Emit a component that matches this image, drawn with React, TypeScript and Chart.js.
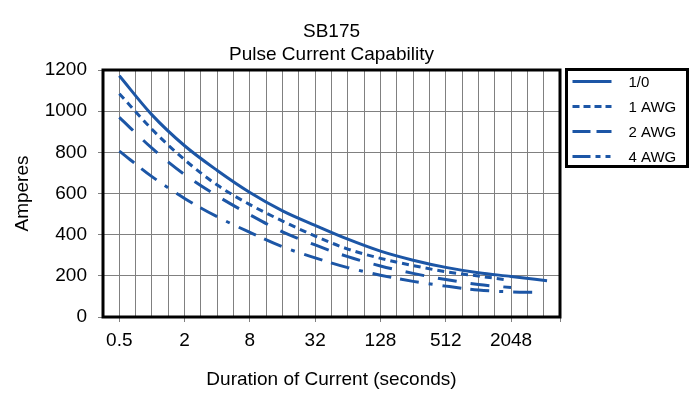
import React, { useEffect, useRef } from "react";
import { Chart, registerables } from "chart.js";

Chart.register(...registerables);

const TITLE_LINES = ["SB175", "Pulse Current Capability"];
const X_TITLE = "Duration of Current (seconds)";
const Y_TITLE = "Amperes";
const SERIES_NAMES = ["1/0", "1 AWG", "2 AWG", "4 AWG"];
const X_LABEL_VALUES = [0.5, 2, 8, 32, 128, 512, 2048];
const X_MIN = Math.pow(2, -1.5);
const X_MAX = Math.pow(2, 12.5);
const Y_MIN = 0;
const Y_MAX = 1200;
const Y_STEP = 200;

const DUR_1_0 = [0.5, 1, 2, 4, 8, 16, 32, 64, 128, 256, 512, 1024, 2048, 4400];
const AMPS_1_0 = [1172, 982, 832, 712, 605, 516, 445, 378, 320, 276, 241, 215, 197, 176];

const DUR_1_AWG = [0.5, 1, 2, 4, 8, 16, 32, 64, 128, 256, 512, 1024, 1900];
const AMPS_1_AWG = [1085, 912, 764, 641, 546, 466, 393, 330, 285, 250, 220, 199, 180];

const DUR_2_AWG = [0.5, 1, 2, 4, 8, 16, 32, 64, 128, 256, 512, 1024, 2048];
const AMPS_2_AWG = [970, 820, 692, 588, 497, 414, 350, 293, 248, 212, 182, 158, 143];

const DUR_4_AWG = [0.5, 1, 2, 4, 8, 16, 32, 64, 128, 256, 512, 1024, 2048, 3600];
const AMPS_4_AWG = [806, 682, 576, 487, 411, 341, 287, 240, 203, 173, 150, 131, 122, 120];

const LINE_COLOR = "#1c56a6";
const GRID_COLOR = "#808080";
const FONT_FAMILY = '"Liberation Sans", Arial, sans-serif';

const DASHES: number[][] = [[], [7, 5], [19, 14], [19, 9, 19, 10, 4, 10]];
const LEGEND_DASHES: number[][] = [[], [7, 4], [18, 6], [18, 5, 5, 5, 5, 5]];

const toPoints = (xs: number[], ys: number[]) => xs.map((x, i) => ({ x, y: ys[i] }));

const isLabelValue = (v: number) => X_LABEL_VALUES.some((l) => Math.abs(l - v) / l < 1e-6);

const titlePlugin = {
  id: "customTitle",
  afterDraw(chart: any) {
    const { ctx, chartArea } = chart;
    const cx = (chartArea.left + chartArea.right) / 2;
    ctx.save();
    ctx.fillStyle = "#000";
    ctx.font = `19px ${FONT_FAMILY}`;
    ctx.textAlign = "center";
    ctx.textBaseline = "middle";
    ctx.fillText(TITLE_LINES[0], cx, 32);
    ctx.fillText(TITLE_LINES[1], cx, 55);
    ctx.restore();
  },
};

const framePlugin = {
  id: "frame",
  afterDatasetsDraw(chart: any) {
    const { ctx, chartArea } = chart;
    ctx.save();
    ctx.strokeStyle = "#000";
    ctx.lineWidth = 3;
    ctx.strokeRect(chartArea.left, chartArea.top, chartArea.right - chartArea.left, chartArea.bottom - chartArea.top);
    ctx.restore();
  },
};

const legendPlugin = {
  id: "customLegend",
  afterDraw(chart: any) {
    const { ctx, chartArea } = chart;
    const left = chartArea.right + 6.5;
    const top = chartArea.top - 0.5;
    const w = 121;
    const h = 97;
    ctx.save();
    ctx.strokeStyle = "#000";
    ctx.lineWidth = 3;
    ctx.strokeRect(left, top, w, h);
    ctx.font = `15px ${FONT_FAMILY}`;
    ctx.textAlign = "left";
    ctx.textBaseline = "middle";
    SERIES_NAMES.forEach((name, i) => {
      const y = top + 12 + i * 25;
      ctx.strokeStyle = LINE_COLOR;
      ctx.lineWidth = 3;
      ctx.setLineDash(LEGEND_DASHES[i]);
      ctx.beginPath();
      ctx.moveTo(left + 6, y);
      ctx.lineTo(left + 45, y);
      ctx.stroke();
      ctx.setLineDash([]);
      ctx.fillStyle = "#000";
      ctx.fillText(name, left + 62, y + 1);
    });
    ctx.restore();
  },
};

export default function App() {
  const canvasRef = useRef<HTMLCanvasElement | null>(null);

  useEffect(() => {
    if (!canvasRef.current) return;
    Chart.defaults.font.family = FONT_FAMILY;
    const gridTicks: number[] = [];
    for (let k = -3; k <= 25; k++) gridTicks.push(Math.pow(2, k / 2));

    const series = [
      toPoints(DUR_1_0, AMPS_1_0),
      toPoints(DUR_1_AWG, AMPS_1_AWG),
      toPoints(DUR_2_AWG, AMPS_2_AWG),
      toPoints(DUR_4_AWG, AMPS_4_AWG),
    ];

    const chart = new Chart(canvasRef.current, {
      type: "line",
      data: {
        datasets: series.map((data, i) => ({
          label: SERIES_NAMES[i],
          data,
          borderColor: LINE_COLOR,
          backgroundColor: LINE_COLOR,
          borderWidth: 3,
          borderDash: DASHES[i],
          pointRadius: 0,
          fill: false,
          cubicInterpolationMode: "monotone",
        })),
      },
      options: {
        animation: false,
        responsive: true,
        maintainAspectRatio: false,
        layout: { padding: { top: 70, right: 140, left: 0, bottom: 0 } },
        plugins: {
          legend: { display: false },
          title: { display: false },
          tooltip: { enabled: false },
        },
        scales: {
          x: {
            type: "logarithmic",
            min: X_MIN,
            max: X_MAX,
            afterBuildTicks: (scale: any) => {
              scale.ticks = gridTicks.map((v) => ({ value: v }));
            },
            afterFit: (scale: any) => {
              scale.height = 80;
            },
            ticks: {
              autoSkip: false,
              maxRotation: 0,
              minRotation: 0,
              padding: 7,
              color: "#000",
              font: { size: 19 },
              callback: (value: any) => (isLabelValue(Number(value)) ? String(Number(value)) : ""),
            },
            grid: {
              color: GRID_COLOR,
              lineWidth: 1,
              tickLength: 5,
              tickColor: (ctx: any) => {
                const v = ctx.tick ? ctx.tick.value : 0;
                return isLabelValue(v) || Math.abs(v - X_MAX) < 1e-3 ? GRID_COLOR : "rgba(0,0,0,0)";
              },
            },
            border: { display: false },
            title: {
              display: true,
              text: X_TITLE,
              color: "#000",
              font: { size: 19 },
              padding: { top: 0, bottom: 6 },
            },
          },
          y: {
            min: Y_MIN,
            max: Y_MAX,
            afterFit: (scale: any) => {
              scale.width = 103;
            },
            ticks: {
              stepSize: Y_STEP,
              padding: 11,
              color: "#000",
              font: { size: 19 },
              callback: (value: any) => String(value),
            },
            grid: {
              color: GRID_COLOR,
              lineWidth: 1,
              tickLength: 5,
              tickColor: GRID_COLOR,
            },
            border: { display: false },
            title: {
              display: true,
              text: Y_TITLE,
              color: "#000",
              font: { size: 19 },
              padding: { top: 11, bottom: 0 },
            },
          },
        },
      },
      plugins: [framePlugin, titlePlugin, legendPlugin],
    } as any);

    return () => chart.destroy();
  }, []);

  return (
    <div style={{ position: "absolute", left: 0, top: 0, width: 700, height: 397 }}>
      <canvas ref={canvasRef} />
    </div>
  );
}
